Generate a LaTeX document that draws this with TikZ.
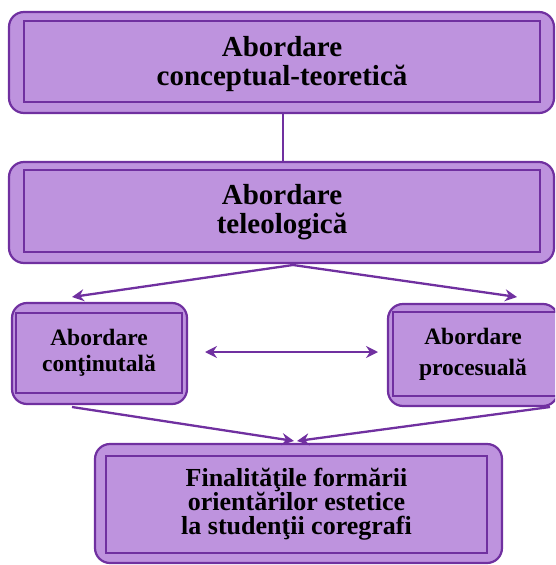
\documentclass[tikz,border=0pt]{standalone}
\usepackage{fontspec}
\setmainfont{Liberation Serif}
\usetikzlibrary{arrows.meta}
\definecolor{boxfill}{RGB}{190,147,222}
\definecolor{boxline}{RGB}{112,48,160}
\newcommand{\mylines}[2][0pt]{\raisebox{#1}[\height][\depth]{\begin{tabular}{@{}c@{}}#2\end{tabular}}}
\begin{document}
\begin{tikzpicture}[x=1pt,y=-1pt,
  outerbox/.style={draw=boxline,fill=boxfill,line width=2.2pt,rounded corners=15pt,inner sep=0pt},
  innerbox/.style={draw=boxline,line width=2.2pt,inner sep=0pt,align=center,font=\bfseries},
  conn/.style={draw=boxline,line width=2.3pt},
  arr/.style={conn,-{Stealth[length=12pt,width=12pt,inset=4pt]}},
  darr/.style={conn,{Stealth[length=12pt,width=12pt,inset=4pt]}-{Stealth[length=12pt,width=12pt,inset=4pt]}}
]
\useasboundingbox (0,0) rectangle (555,565);
\begin{scope}
\clip (0,0) rectangle (555,565);
% box 1
\node[outerbox,minimum width=545pt,minimum height=101pt] (o1) at (281.5,62.5) {};
\node[innerbox,minimum width=516pt,minimum height=81pt,font=\bfseries\fontsize{29}{28}\selectfont] (b1) at (282,61.5) {\mylines[-3.5pt]{Abordare\\conceptual-teoretică}};
% box 2
\node[outerbox,minimum width=545pt,minimum height=101pt] (o2) at (281.5,212.5) {};
\node[innerbox,minimum width=516pt,minimum height=82pt,font=\bfseries\fontsize{29}{28}\selectfont] (b2) at (282,211) {\mylines[-2.5pt]{Abordare\\teleologică}};
% box 3
\node[outerbox,minimum width=175pt,minimum height=101pt] (o3) at (99.5,353.5) {};
\node[innerbox,minimum width=166pt,minimum height=80pt,font=\bfseries\fontsize{23.5}{26}\selectfont] (b3) at (99,353) {Abordare\\conţinutală};
% box 4
\node[outerbox,minimum width=170pt,minimum height=102pt] (o4) at (473,355) {};
\node[innerbox,minimum width=178pt,minimum height=84pt,font=\bfseries\fontsize{23.5}{31}\selectfont,text width=166pt] (b4) at (482,354) {\hspace*{-18pt}Abordare\\\hspace*{-18pt}procesuală};
% box 5
\node[outerbox,minimum width=407pt,minimum height=119pt] (o5) at (298.5,503.5) {};
\node[innerbox,minimum width=381pt,minimum height=97pt,font=\bfseries\fontsize{26}{24}\selectfont] (b5) at (296.5,504.5) {Finalităţile formării\\orientărilor estetice\\la studenţii coregrafi};
\end{scope}
% connectors
\coordinate (t) at (293,265);
\coordinate (l1) at (72,297);
\coordinate (r1) at (517,297);
\coordinate (l2) at (72,407);
\coordinate (r2) at (550,407);
\coordinate (f1) at (294,441);
\coordinate (f2) at (297,441);
\coordinate (dl) at (205,352);
\coordinate (dr) at (378,352);
\draw[conn] ([xshift=1.5pt]o1.south) -- ([xshift=1.5pt]o2.north);
\draw[arr] (t) -- (l1);
\draw[arr] (t) -- (r1);
\draw[darr] (dl) -- (dr);
\draw[arr] (l2) -- (f1);
\draw[arr] (r2) -- (f2);
\end{tikzpicture}
\end{document}
